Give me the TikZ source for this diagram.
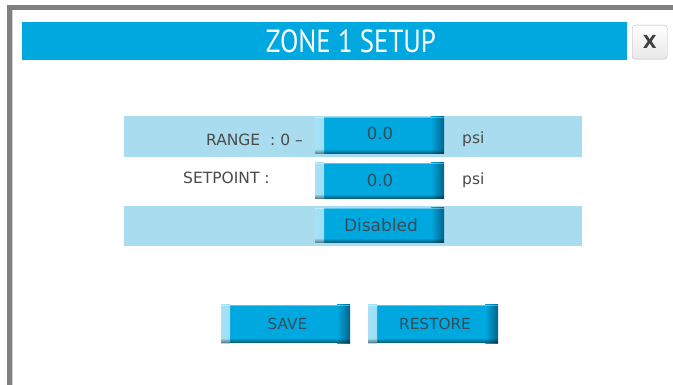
\documentclass[tikz,border=0pt]{standalone}
\usepackage{fontspec}
\usepackage{graphicx}
\setmainfont{DejaVu Sans}
\newfontfamily\titlefont{PT Sans}
\usetikzlibrary{fadings}
\definecolor{hmiblue}{HTML}{00A8E0}
\definecolor{btnlight}{HTML}{A6E2F6}
\definecolor{btndark}{HTML}{00648C}
\definecolor{bandblue}{HTML}{A8DCEE}
\definecolor{framegray}{HTML}{808080}
\definecolor{labelgray}{HTML}{4A4A4A}
\definecolor{btntext}{HTML}{3A4C58}
\tikzset{
  band/.style={fill=bandblue, draw=none},
  btnface/.style={rectangle, inner sep=0pt, outer sep=0pt, anchor=north west,
    fill=hmiblue, text=btntext,
    path picture={
      \fill[left color=btnlight, right color=hmiblue]
        (path picture bounding box.south west) rectangle ([xshift=9pt]path picture bounding box.north west);
      \fill[left color=hmiblue, right color=btndark]
        ([xshift=-13pt]path picture bounding box.south east) rectangle (path picture bounding box.north east);
      \fill[white, opacity=0.35]
        (path picture bounding box.north west) rectangle ([yshift=-1.5pt]path picture bounding box.north east);
      \fill[black, opacity=0.5, path fading=north]
        (path picture bounding box.south west) rectangle ([yshift=5pt]path picture bounding box.south east);
    }},
  label/.style={text=labelgray, font=\fontsize{15.5}{15.5}\selectfont, inner sep=0pt},
  valtext/.style={font=\fontsize{16.5}{16.5}\selectfont, text=btntext, inner sep=0pt},
  btnfont/.style={font=\fontsize{15.3}{15.3}\selectfont, text=btntext, inner sep=0pt},
}
\begin{document}
\begin{tikzpicture}[x=1pt, y=-1pt]
  \useasboundingbox (0,0) rectangle (673,385);
  \fill[white] (0,0) rectangle (673,385);
  % window frame
  \fill[framegray] (7,5) rectangle (673,10);
  \fill[framegray] (7,5) rectangle (12,385);
  \fill[gray!35] (12,10) rectangle (13,385);
  % title bar
  \node[rectangle, fill=hmiblue, anchor=north west, minimum width=605pt, minimum height=38pt,
        inner sep=0pt] (title) at (22,22) {};
  \node[text=white, inner sep=0pt, font=\titlefont\fontsize{32}{32}\selectfont]
        (titletext) at (351,41) {\scalebox{0.84}[1]{ZONE 1 SETUP}};
  % close button
  \node[rectangle, rounded corners=3pt, draw=gray!55, top color=white, bottom color=gray!18,
        anchor=north west, minimum width=35pt, minimum height=34pt, inner sep=0pt,
        text=black!75, font=\bfseries\fontsize{18}{18}\selectfont] (close) at (632,25) {X};
  % row bands
  \fill[band] (124,116) rectangle (582,157);
  \fill[band] (124,206) rectangle (582,246);
  % range row
  \node[label, anchor=base east] (rangelbl) at (303,146) {RANGE\ \ :\ 0 –};
  \node[btnface, minimum width=129pt, minimum height=37pt] (rangebtn) at (315,117) {};
  \node[valtext] (rangeval) at (380,133) {0.0};
  \node[label, anchor=base west] (rangeunit) at (462,144) {psi};
  % setpoint row
  \node[label, anchor=base west] (setlbl) at (183,184) {SETPOINT :};
  \node[btnface, minimum width=129pt, minimum height=36pt] (setbtn) at (315,163) {};
  \node[valtext] (setval) at (380,180.5) {0.0};
  \node[label, anchor=base west] (setunit) at (462,185) {psi};
  % mode row
  \node[btnface, minimum width=129pt, minimum height=35pt] (modebtn) at (315,208) {};
  \node[valtext, font=\fontsize{17}{17}\selectfont] (modeval) at (381,225) {Disabled};
  % action buttons
  \node[btnface, minimum width=129pt, minimum height=38pt] (savebtn) at (221,305) {};
  \node[btnfont] (savetxt) at (287.5,324) {SAVE};
  \node[btnface, minimum width=130pt, minimum height=38pt] (restbtn) at (368,305) {};
  \node[btnfont] (resttxt) at (435,324) {RESTORE};
\end{tikzpicture}
\end{document}
